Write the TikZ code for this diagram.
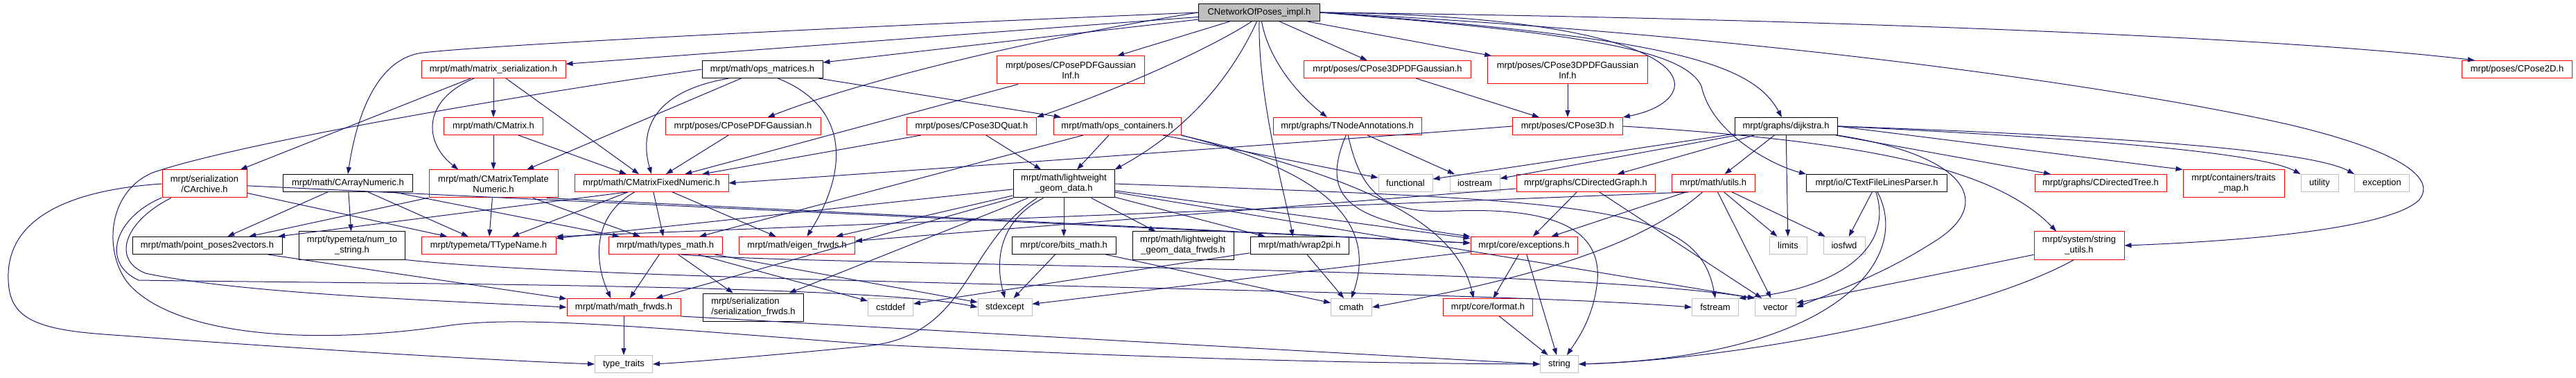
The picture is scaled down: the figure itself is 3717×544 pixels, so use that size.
\documentclass[tikz,border=0pt]{standalone}
\usepackage{fontspec}
\setmainfont{Liberation Sans}
\usetikzlibrary{arrows.meta}
\definecolor{depblue}{HTML}{191970}
\definecolor{sysgray}{HTML}{BFBFBF}

\begin{document}
\begin{tikzpicture}[x=1pt, y=1pt,
	file/.style={rectangle, line width=1pt, inner xsep=2pt, inner ysep=1pt, minimum height=25pt, align=center, font=\fontsize{13}{15}\selectfont},
	twoline/.style={minimum height=40pt},
	topfile/.style={file, draw=black, fill=sysgray},
	blkfile/.style={file, draw=black},
	redfile/.style={file, draw=red},
	sysfile/.style={file, draw=sysgray},
	dep/.style={draw=depblue, line width=1pt, -{Triangle[length=10pt,width=7pt]}}]
	\useasboundingbox (0,0) rectangle (3717,544);

	\node[topfile, minimum width=175] (T) at (1817,526) {CNetworkOfPoses\_impl.h};

	\node[redfile, minimum width=208] (msr) at (712,444) {mrpt/math/matrix\_serialization.h};
	\node[blkfile, minimum width=174] (opm) at (1100,444) {mrpt/math/ops\_matrices.h};
	\node[redfile, twoline, minimum width=213] (ppi) at (1545,443) {mrpt/poses/CPosePDFGaussian\\Inf.h};
	\node[redfile, minimum width=241] (p3g) at (2002,444) {mrpt/poses/CPose3DPDFGaussian.h};
	\node[redfile, twoline, minimum width=231] (p3gi) at (2262,443) {mrpt/poses/CPose3DPDFGaussian\\Inf.h};
	\node[redfile, minimum width=159] (p2d) at (3632,444) {mrpt/poses/CPose2D.h};

	\node[redfile, minimum width=143] (cmat) at (712,362) {mrpt/math/CMatrix.h};
	\node[redfile, minimum width=224] (ppg) at (1072,362) {mrpt/poses/CPosePDFGaussian.h};
	\node[redfile, minimum width=187] (p3q) at (1402,362) {mrpt/poses/CPose3DQuat.h};
	\node[redfile, minimum width=184] (opc) at (1612,362) {mrpt/math/ops\_containers.h};
	\node[redfile, minimum width=214] (tna) at (1944,362) {mrpt/graphs/TNodeAnnotations.h};
	\node[redfile, minimum width=159] (p3d) at (2262,362) {mrpt/poses/CPose3D.h};
	\node[blkfile, minimum width=148] (dij) at (2577,362) {mrpt/graphs/dijkstra.h};

	\node[redfile, twoline, minimum width=122] (car) at (295,279) {mrpt/serialization\\/CArchive.h};
	\node[blkfile, minimum width=187] (can) at (502,280) {mrpt/math/CArrayNumeric.h};
	\node[redfile, twoline, minimum width=186] (ctn) at (712,279) {mrpt/math/CMatrixTemplate\\Numeric.h};
	\node[redfile, minimum width=222] (cfn) at (940,280) {mrpt/math/CMatrixFixedNumeric.h};
	\node[blkfile, twoline, minimum width=146] (lgd) at (1535,279) {mrpt/math/lightweight\\\_geom\_data.h};
	\node[sysfile, minimum width=78] (fun) at (2028,280) {functional};
	\node[sysfile, minimum width=72] (ios) at (2128,280) {iostream};
	\node[redfile, minimum width=200] (cdg) at (2288,280) {mrpt/graphs/CDirectedGraph.h};
	\node[redfile, minimum width=120] (mut) at (2472,280) {mrpt/math/utils.h};
	\node[blkfile, minimum width=203] (tfp) at (2708,280) {mrpt/io/CTextFileLinesParser.h};
	\node[redfile, minimum width=190] (cdt) at (3031,280) {mrpt/graphs/CDirectedTree.h};
	\node[redfile, twoline, minimum width=146] (trm) at (3223,279) {mrpt/containers/traits\\\_map.h};
	\node[sysfile, minimum width=54] (uti) at (3347,280) {utility};
	\node[sysfile, minimum width=79] (exc) at (3437,280) {exception};

	\node[blkfile, minimum width=216] (pp2v) at (299,190) {mrpt/math/point\_poses2vectors.h};
	\node[blkfile, twoline, minimum width=153] (nts) at (508,190) {mrpt/typemeta/num\_to\\\_string.h};
	\node[redfile, minimum width=194] (ttn) at (705,190) {mrpt/typemeta/TTypeName.h};
	\node[redfile, minimum width=164] (tym) at (960,190) {mrpt/math/types\_math.h};
	\node[redfile, minimum width=167] (eig) at (1150,190) {mrpt/math/eigen\_frwds.h};
	\node[blkfile, minimum width=150] (bit) at (1535,190) {mrpt/core/bits\_math.h};
	\node[blkfile, twoline, minimum width=146] (lgf) at (1707,190) {mrpt/math/lightweight\\\_geom\_data\_frwds.h};
	\node[blkfile, minimum width=142] (w2p) at (1875,190) {mrpt/math/wrap2pi.h};
	\node[redfile, minimum width=154] (cex) at (2199,190) {mrpt/core/exceptions.h};
	\node[sysfile, minimum width=54] (lim) at (2580,190) {limits};
	\node[sysfile, minimum width=60] (isf) at (2661,190) {iosfwd};
	\node[redfile, twoline, minimum width=130] (stu) at (3000,190) {mrpt/system/string\\\_utils.h};

	\node[redfile, minimum width=164] (mfw) at (900,101) {mrpt/math/math\_frwds.h};
	\node[blkfile, twoline, align=left, minimum width=145] (sfw) at (1087,101) {mrpt/serialization\\/serialization\_frwds.h};
	\node[sysfile, minimum width=65] (csd) at (1285,101) {cstddef};
	\node[sysfile, minimum width=78] (sde) at (1450,101) {stdexcept};
	\node[sysfile, minimum width=59] (cma) at (1950,101) {cmath};
	\node[redfile, minimum width=129] (fmt) at (2147,101) {mrpt/core/format.h};
	\node[sysfile, minimum width=67] (fst) at (2475,101) {fstream};
	\node[sysfile, minimum width=59] (vec) at (2562,101) {vector};

	\node[sysfile, minimum width=83] (tt) at (900,19) {type\_traits};
	\node[sysfile, minimum width=55] (str) at (2250,19) {string};

	\foreach \a/\b in {T/msr, T/opm, T/ppi, T/p3g, T/p3gi,
		msr/car, msr/cmat, msr/cfn, opm/ctn, opm/opc,
		ppi/cfn, p3g/p3d, p3gi/p3d, cmat/ctn, cmat/cfn, ppg/cfn, p3q/cfn, p3q/lgd,
		opc/lgd, opc/tym, opc/fun, tna/ios,
		dij/fun, dij/ios, dij/cdg, dij/mut, dij/lim, dij/cdt,
		car/ttn, car/cex, can/pp2v, can/nts, can/ttn, can/tym,
		ctn/pp2v, ctn/ttn, ctn/tym, cfn/ttn, cfn/tym, cfn/eig,
		lgd/ttn, lgd/eig, lgd/bit, lgd/lgf, lgd/w2p, lgd/cex, lgd/mfw, lgd/sfw,
		cdg/cex, cdg/eig, cdg/vec, mut/cex, mut/lim, mut/isf, mut/vec,
		tfp/isf, stu/vec, pp2v/mfw, tym/mfw, tym/sfw, tym/csd, tym/sde,
		bit/sde, bit/cma, w2p/cma, w2p/csd, cex/fmt, cex/str, cex/sde,
		fmt/str, mfw/tt}
		\draw[dep] (\a) -- (\b);

	\draw[dep] (ctn.345) -- (cex);
	\draw[dep] (cfn.200) -- (pp2v);
	\draw[dep] (mut.200) -- (ttn.north east);
	\draw[dep] (lgd) -- (vec.north west);
	\draw[dep] (dij.east) -- (trm.north west);
	\draw[dep] (mfw.south east) -- (str.west);

	\draw[dep] (T.west) .. controls (1100,500) and (700,478) .. (610,468) .. controls (545,460) and (515,380) .. (can.north);
	\draw[dep] (T.west) .. controls (1500,490) and (1250,430) .. (ppg.20);
	\draw[dep] (T.230) .. controls (1740,470) and (1600,410) .. (p3q.north east);
	\draw[dep] (T.255) .. controls (1780,440) and (1720,360) .. (lgd.north east);
	\draw[dep] (T.270) .. controls (1815,400) and (1855,260) .. (w2p.126);
	\draw[dep] (T.285) .. controls (1830,460) and (1870,410) .. (tna.156);
	\draw[dep] (T.east) .. controls (2480,520) and (2470,400) .. (p3d.north east);
	\draw[dep] (T.east) .. controls (2420,490) and (2530,450) .. (dij.115);
	\draw[dep] (T.east) .. controls (2600,518) and (3300,490) .. (p2d.168);
	\draw[dep] (T.east) .. controls (2300,495) and (2430,470) .. (2455,420) .. controls (2470,350) and (2560,305) .. (tfp.north west);
	\draw[dep] (T.east) .. controls (2600,490) and (3100,410) .. (3300,365) .. controls (3450,330) and (3520,290) .. (3490,255) .. controls (3440,210) and (3200,195) .. (stu.east);

	\draw[dep] (msr.205) .. controls (610,400) and (610,340) .. (ctn.158);
	\draw[dep] (opm.195) .. controls (930,410) and (925,345) .. (cfn.north);
	\draw[dep] (opm.330) .. controls (1225,390) and (1225,300) .. (eig.42);
	\draw[dep] (opm.west) .. controls (800,415) and (350,340) .. (220,295) .. controls (150,265) and (150,170) .. (190,130) .. controls (260,60) and (450,45) .. (650,75) .. controls (750,88) and (900,75) .. (1250,48) .. controls (1700,25) and (2000,20) .. (str.west);
	\draw[dep] (car.west) .. controls (100,270) and (15,230) .. (12,150) .. controls (10,90) and (40,70) .. (150,62) .. controls (450,40) and (700,25) .. (tt.west);
	\draw[dep] (car.203) .. controls (180,225) and (160,170) .. (210,150) .. controls (350,120) and (650,110) .. (mfw.west);
	\draw[dep] (car.198) .. controls (165,230) and (145,165) .. (200,140) .. controls (500,135) and (1250,135) .. (sde.west);
	\draw[dep] (cfn.208) .. controls (850,230) and (860,160) .. (mfw.145);
	\draw[dep] (lgd.208) .. controls (1390,190) and (1400,60) .. (1250,45) .. controls (1150,35) and (1000,22) .. (tt.east);
	\draw[dep] (lgd.215) .. controls (1430,220) and (1440,150) .. (sde.north);
	\draw[dep] (lgd.east) .. controls (2300,255) and (2450,250) .. (fst.north);
	\draw[dep] (opc.south east) .. controls (1900,300) and (1990,230) .. (cma.north);
	\draw[dep] (opc.south east) .. controls (1950,290) and (2100,230) .. (fmt.148);
	\draw[dep] (tna.262) .. controls (1900,250) and (1960,225) .. (cex.north west);
	\draw[dep] (tna.275) .. controls (1965,260) and (2000,235) .. (2100,240) .. controls (2250,245) and (2310,210) .. (2305,140) .. controls (2300,90) and (2280,60) .. (str.50);
	\draw[dep] (p3d.west) .. controls (1900,340) and (1400,304) .. (cfn.east);
	\draw[dep] (p3d.east) .. controls (2700,340) and (2880,300) .. (stu.148);
	\draw[dep] (dij.east) .. controls (3000,345) and (3260,325) .. (uti.north west);
	\draw[dep] (dij.east) .. controls (3000,350) and (3330,330) .. (exc.north west);
	\draw[dep] (dij.south east) .. controls (2840,320) and (2880,250) .. (2790,195) .. controls (2720,150) and (2640,120) .. (vec.east);
	\draw[dep] (tfp.265) .. controls (2735,180) and (2640,125) .. (fst.north east);
	\draw[dep] (tfp.275) .. controls (2760,170) and (2650,30) .. (str.east);
	\draw[dep] (stu.250) .. controls (2850,90) and (2500,25) .. (str.east);
	\draw[dep] (mut.220) .. controls (2380,200) and (2250,150) .. (cma.east);
	\draw[dep] (nts.south east) .. controls (900,135) and (2100,128) .. (fst.west);
	\draw[dep] (tym.330) .. controls (1200,160) and (2250,160) .. (vec.north west);
\end{tikzpicture}
\end{document}
